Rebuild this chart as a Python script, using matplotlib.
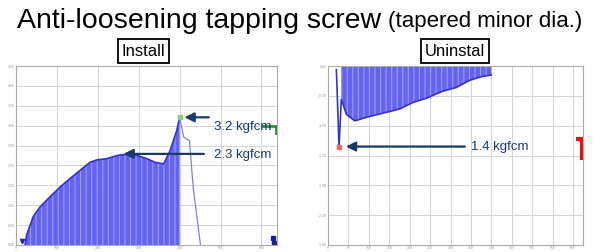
import matplotlib
matplotlib.use("Agg")
import matplotlib.pyplot as plt

# ---------------- data ----------------
# Install (tightening) torque curve, kgf·cm vs. rotation (grid units)
install_x = [0.22, 0.26, 0.42, 0.59, 0.83, 1.08, 1.32, 1.57, 1.81, 1.98, 2.22, 2.47,
             2.76, 2.96, 3.20, 3.40, 3.61, 3.77, 3.93, 4.00]
install_y = [0.00, 0.25, 0.71, 0.96, 1.21, 1.46, 1.67, 1.88, 2.08, 2.14, 2.17, 2.25,
             2.29, 2.25, 2.17, 2.08, 2.04, 2.38, 2.88, 3.21]
install_tail_x = [4.00, 4.10, 4.24, 4.33, 4.51]
install_tail_y = [3.21, 2.71, 2.62, 1.46, 0.00]
install_peak = (4.00, 3.21)
install_plateau = (2.76, 2.29)

# Uninstall (loosening) torque curve, negative kgf·cm
uninst_x = [0.41, 0.54, 0.65, 0.90, 1.31, 1.88, 2.69, 3.51, 4.16, 4.81, 5.63, 6.28,
            6.93, 7.50, 7.99]
uninst_y = [-0.06, -1.35, -0.56, -0.81, -0.92, -0.86, -0.79, -0.72, -0.61, -0.54,
            -0.42, -0.36, -0.24, -0.18, -0.15]
uninst_peak = (0.54, -1.35)

left_yticks = [0.0, 0.5, 1.0, 1.5, 2.0, 2.5, 3.0, 3.5, 4.0, 4.5]
left_xticks = [0, 1, 2, 3, 4, 5, 6]
left_xlabels = ["0", "100", "200", "300", "400", "500", "600"]
right_yticks = [0.0, -0.5, -1.0, -1.5, -2.0, -2.5, -3.0]
right_xticks = list(range(13))
right_xlabels = [str(v * 50) for v in range(13)]

labels = ["3.2 kgfcm", "2.3 kgfcm", "1.4 kgfcm"]

# decorative limit markers (data units)
green_mark_x = [6.03, 6.36, 6.36]
green_mark_y = [3.00, 3.00, 2.82]
red_mark_x = [12.12, 12.42, 12.42]
red_mark_y = [-1.22, -1.22, -1.58]

# ---------------- figure ----------------
plt.rcParams['font.family'] = ['Liberation Sans', 'DejaVu Sans']
plt.rcParams['hatch.linewidth'] = 0.8
fig = plt.figure(figsize=(6.04, 2.52), dpi=100)

fill_c = '#6464f2'
hatch_c = '#9a9aff'
line_c = '#3333cc'
navy = '#173a6b'
grid_c = '#d4d4d4'

def style(ax, xt, xl, yt):
    ax.set_xticks(xt)
    ax.set_xticklabels(xl)
    ax.set_yticks(yt)
    ax.set_yticklabels([f"{v:.2f}" for v in yt])
    ax.tick_params(labelsize=2.5, colors='#999999', length=0, pad=1)
    ax.grid(True, color=grid_c, lw=0.7)
    for s in ax.spines.values():
        s.set_color('#aaaaaa')
        s.set_linewidth(0.8)
    ax.set_axisbelow(True)

bottom = 7 / 252
height = 179 / 252

# left: install
axL = fig.add_axes([16/604, bottom, 261/604, height])
axL.fill_between(install_x, install_y, 0, facecolor=fill_c, edgecolor=hatch_c,
                 hatch='|||', linewidth=0)
axL.plot(install_x, install_y, color=line_c, lw=1.2)
axL.plot(install_tail_x, install_tail_y, color='#8080e0', lw=0.9)
axL.plot([install_peak[0]], [install_peak[1]], 's', color='#77dd66', ms=3)
axL.plot(green_mark_x, green_mark_y, color='#229922', lw=2, clip_on=False)
axL.plot([0.15], [0.1], 'v', color='#2222aa', ms=3)
axL.plot([6.28, 6.3], [0.18, 0.06], 's', color='#1a1aa0', ms=2.5)
axL.set_xlim(0, 6.38)
axL.set_ylim(0, 4.5)
style(axL, left_xticks, left_xlabels, left_yticks)

axL.annotate("", xy=(install_peak[0] + 0.05, install_peak[1]),
             xytext=(install_peak[0] + 0.78, install_peak[1]),
             arrowprops=dict(arrowstyle='-|>', color=navy, lw=1.6, mutation_scale=14))
axL.text(4.85, install_peak[1] - 0.25, labels[0], color=navy, fontsize=9.5,
         va='center', ha='left')
axL.annotate("", xy=(install_plateau[0] - 0.2, install_plateau[1]),
             xytext=(install_plateau[0] + 1.9, install_plateau[1]),
             arrowprops=dict(arrowstyle='-|>', color=navy, lw=1.6, mutation_scale=14))
axL.text(4.85, install_plateau[1] - 0.03, labels[1], color=navy, fontsize=9.5,
         va='center', ha='left')

# right: uninstall
axR = fig.add_axes([328/604, bottom, 255/604, height])
axR.fill_between(uninst_x[2:], uninst_y[2:], 0, facecolor=fill_c, edgecolor=hatch_c,
                 hatch='|||', linewidth=0)
axR.plot(uninst_x, uninst_y, color=line_c, lw=1.2)
axR.plot([uninst_peak[0]], [uninst_peak[1]], 's', color='#ee6666', ms=2.5)
axR.plot(red_mark_x, red_mark_y, color='#ee1111', lw=3, clip_on=False,
         solid_capstyle='butt')
axR.set_xlim(0, 12.48)
axR.set_ylim(-3.0, 0.0)
style(axR, right_xticks, right_xlabels, right_yticks)

axR.annotate("", xy=(uninst_peak[0] + 0.2, uninst_peak[1]),
             xytext=(uninst_peak[0] + 6.3, uninst_peak[1]),
             arrowprops=dict(arrowstyle='-|>', color=navy, lw=1.6, mutation_scale=14))
axR.text(7.0, uninst_peak[1], labels[2], color=navy, fontsize=9.5,
         va='center', ha='left')

# titles
base_y = 1 - 27.5/252
t1 = fig.text(17/604, base_y, "Anti-loosening tapping screw", fontsize=20.5,
              va='baseline', ha='left', color='black')
fig.canvas.draw()
bb = t1.get_window_extent(renderer=fig.canvas.get_renderer())
x2 = (bb.x1 + 7) / fig.bbox.width
fig.text(x2, base_y, "(tapered minor dia.)", fontsize=16, va='baseline',
         ha='left', color='black')
box = dict(boxstyle='square,pad=0.25', facecolor='white', edgecolor='black', lw=1.3)
fig.text(143.5/604, 1 - 51/252, "Install", fontsize=12, ha='center', va='center', bbox=box)
fig.text(455/604, 1 - 51/252, "Uninstal", fontsize=12, ha='center', va='center', bbox=box)

fig.savefig("out.png", dpi=100)
